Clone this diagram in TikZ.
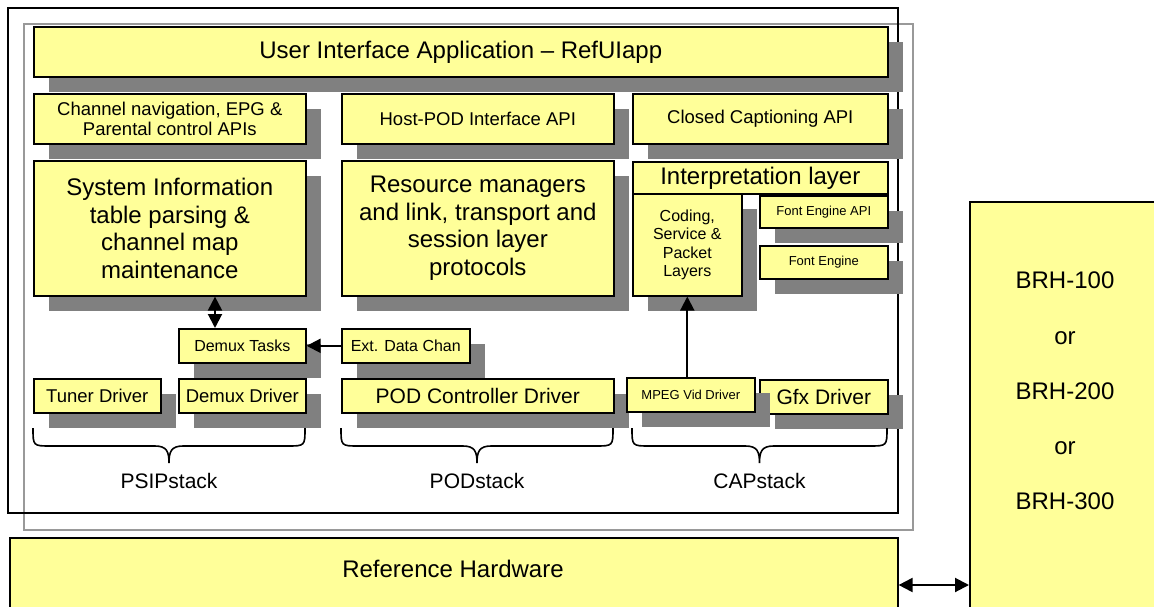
\documentclass[tikz,border=0pt]{standalone}
\usepackage{fontspec}
\setmainfont{Liberation Sans}
\usetikzlibrary{arrows.meta,calc}
\definecolor{boxyellow}{HTML}{FFFF99}
\definecolor{shadowgray}{HTML}{808080}
\definecolor{framegray}{HTML}{999999}
\newcommand\setfs[2]{\fontsize{#1}{#2}\selectfont}
% shadowed box: name, x1, y1, x2, y2, style, text
\newcommand\ycbox[7]{%
  \fill[shadowgray] (#2+16,#3+16) rectangle (#4+16,#5+16);
  \node[box,#6,minimum width={(#4-#2)*1pt},minimum height={(#5-#3)*1pt},anchor=north west] (#1) at (#2,#3) {#7};}
% box without shadow
\newcommand\ncbox[7]{%
  \node[box,#6,minimum width={(#4-#2)*1pt},minimum height={(#5-#3)*1pt},anchor=north west] (#1) at (#2,#3) {#7};}
% stack brace: x1, x2
\newcommand\stackbrace[2]{%
  \draw[bracestyle] (#1,428) .. controls (#1,446) and (#1,446) .. (#1+18,446)
    -- ({(#1+#2)/2-14},446) .. controls ({(#1+#2)/2-2},446) and ({(#1+#2)/2},452) .. ({(#1+#2)/2},463)
    .. controls ({(#1+#2)/2},452) and ({(#1+#2)/2+2},446) .. ({(#1+#2)/2+14},446)
    -- (#2-18,446) .. controls (#2,446) and (#2,446) .. (#2,428);}
\begin{document}
\begin{tikzpicture}[x=1pt,y=-1pt,
  box/.style={draw=black, line width=1.6pt, fill=boxyellow, inner sep=0pt, align=center, text=black},
  txtBig/.style={font=\setfs{24}{27.6}},
  txtMed/.style={font=\setfs{18.5}{20.7}},
  txtDrv/.style={font=\setfs{21}{24}},
  txtSml/.style={font=\setfs{16}{18.3}},
  txtTiny/.style={font=\setfs{13}{15}},
  conn/.style={line width=2pt, -{Triangle[length=14pt,width=14pt]}},
  dconn/.style={line width=2pt, {Triangle[length=14pt,width=14pt]}-{Triangle[length=14pt,width=14pt]}},
  bracestyle/.style={line width=1.6pt, black},
  stacklabel/.style={font=\setfs{21}{24}, inner sep=0pt, anchor=base},
]
\useasboundingbox (0,0) rectangle (1154,607);
\clip (0,0) rectangle (1154,607);
\fill[white] (0,0) rectangle (1154,607);

% frames
\draw[framegray, line width=1.6pt] (24,24) rectangle (913,530);
\draw[black, line width=1.6pt] (8,8) rectangle (898,513);

% top layer
\ycbox{ui}{33}{26}{887}{76}{txtBig}{User Interface Application – RefUIapp}
\ycbox{chan}{33}{93}{305}{143}{txtMed}{Channel navigation, EPG \&\\Parental control APIs}
\ycbox{hostpod}{341}{93}{613}{143}{txtMed}{Host-POD Interface API}
\ycbox{cc}{632}{93}{887}{143}{txtMed}{Closed Captioning API}
\ycbox{sysinfo}{33}{160}{305}{295}{txtBig}{System Information\\table parsing \&\\channel map\\maintenance}
\ycbox{resmgr}{341}{160}{613}{295}{txtBig}{Resource managers\\and link, transport and\\session layer\\protocols}
\ncbox{interp}{632}{161}{887}{193}{txtBig}{Interpretation layer}
\ycbox{coding}{632}{193}{741}{295}{txtSml}{Coding,\\Service \&\\Packet\\Layers}
\ycbox{fontapi}{759}{195}{887}{227}{txtTiny}{Font Engine API}
\ycbox{fonteng}{759}{245}{887}{278}{txtTiny}{Font Engine}
\ycbox{tasks}{178}{328}{305}{362}{txtSml}{Demux Tasks}
\ycbox{extdata}{341}{328}{469}{362}{txtSml}{Ext. Data Chan}
\ycbox{tuner}{33}{378}{160}{412}{txtMed}{Tuner Driver}
\ycbox{demuxdrv}{178}{378}{305}{412}{txtMed}{Demux Driver}
\ycbox{podctl}{341}{378}{613}{412}{txtDrv}{POD Controller Driver}
\ycbox{gfx}{759}{379}{887}{413}{txtDrv}{Gfx Driver}
\ycbox{mpeg}{626}{377}{754}{411}{txtTiny}{MPEG Vid Driver}

% connectors
\coordinate (dm) at (215,0);
\draw[dconn] (sysinfo.south -| dm) -- (tasks.north -| dm);
\draw[conn] (extdata.west) -- (tasks.east);
\draw[conn] (mpeg.north -| coding.south) -- (coding.south);

% braces and labels
\stackbrace{33}{305}
\stackbrace{341}{613}
\stackbrace{632}{887}
\node[stacklabel] (psiplbl) at (169,488) {PSIPstack};
\node[stacklabel] (podlbl) at (477,488) {PODstack};
\node[stacklabel] (caplbl) at (759.5,488) {CAPstack};

% hardware
\ncbox{refhw}{9}{537}{897}{620}{}{}
\node[txtBig, anchor=base, inner sep=0pt] (refhwlbl) at (453,577) {Reference Hardware};
\ncbox{brh}{969}{201}{1170}{620}{}{}
\node[font=\setfs{24}{55.25}, align=center, inner sep=0pt] (brhlbl) at (1065,391) {BRH-100\\or\\BRH-200\\or\\BRH-300};
\coordinate (hw) at (0,585);
\draw[dconn] (refhw.east |- hw) -- (brh.west |- hw);
\end{tikzpicture}
\end{document}
